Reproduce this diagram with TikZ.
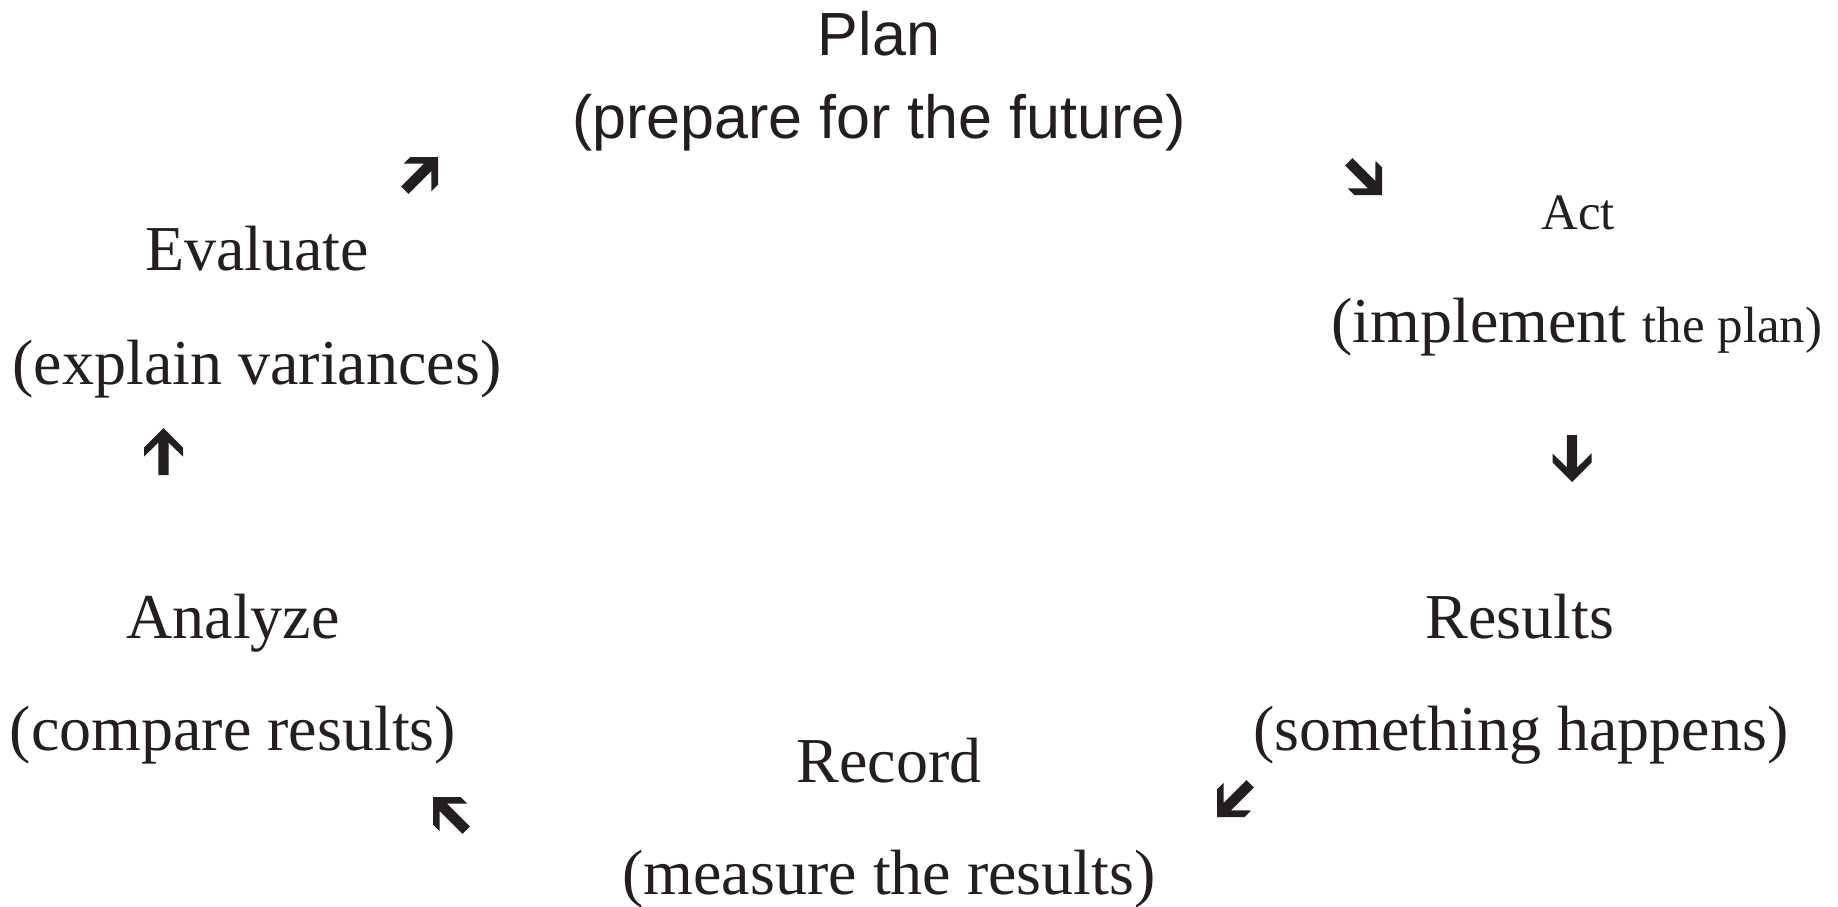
\documentclass[tikz,border=0pt]{standalone}
\usepackage{fontspec}
\setmainfont{Liberation Serif}
\newfontfamily\plansans{Liberation Sans}
\definecolor{ink}{HTML}{231F20}
\newcommand{\cyclearrow}[4]{% name, x, y, rotation
  \coordinate (#1) at (#2,#3);
  \begin{scope}[shift={(#1)}, rotate=#4]
    \fill[ink] (0,0) -- (-19.5,-19.5) -- (-28.7,-19.5) -- (-14.5,-5.2) -- (-47,-5.2)
      -- (-47,5.2) -- (-14.5,5.2) -- (-28.7,19.5) -- (-19.5,19.5) -- cycle;
  \end{scope}}
\begin{document}
\begin{tikzpicture}[x=0.5pt,y=-0.5pt,
  lbl/.style={inner sep=0pt, anchor=base, text=ink, font=\fontsize{32}{38}\selectfont},
  sanslbl/.style={inner sep=0pt, anchor=base, text=ink, font=\plansans\fontsize{30.5}{36}\selectfont},
  smalllbl/.style={inner sep=0pt, anchor=base, text=ink, font=\fontsize{25.5}{30}\selectfont}]
\useasboundingbox (0,0) rectangle (1838,906);
% Plan
\node[sanslbl] (plan) at (879,55) {Plan};
\node[sanslbl] (plansub) at (879,138) {(prepare for the future)};
% Act
\node[smalllbl] (act) at (1578,229) {Act};
\node[lbl] (actsub) at (1577,342) {(implement {\fontsize{25.5}{30}\selectfont the plan)}};
% Results
\node[lbl] (results) at (1520,638) {Results};
\node[lbl] (resultssub) at (1521,750) {(something happens)};
% Record
\node[lbl] (record) at (889,782) {Record};
\node[lbl] (recordsub) at (889,894) {(measure the results)};
% Analyze
\node[lbl] (analyze) at (233,638) {Analyze};
\node[lbl] (analyzesub) at (233,750) {(compare results)};
% Evaluate
\node[lbl] (evaluate) at (257,270) {Evaluate};
\node[lbl] (evaluatesub) at (257,384) {(explain variances)};
% arrows
\cyclearrow{a1}{438}{157}{45}
\cyclearrow{a2}{1382}{195}{-45}
\cyclearrow{a3}{1572}{482}{-90}
\cyclearrow{a4}{1217}{817}{-135}
\cyclearrow{a5}{433}{797}{135}
\cyclearrow{a6}{163.5}{428}{90}
\end{tikzpicture}
\end{document}
